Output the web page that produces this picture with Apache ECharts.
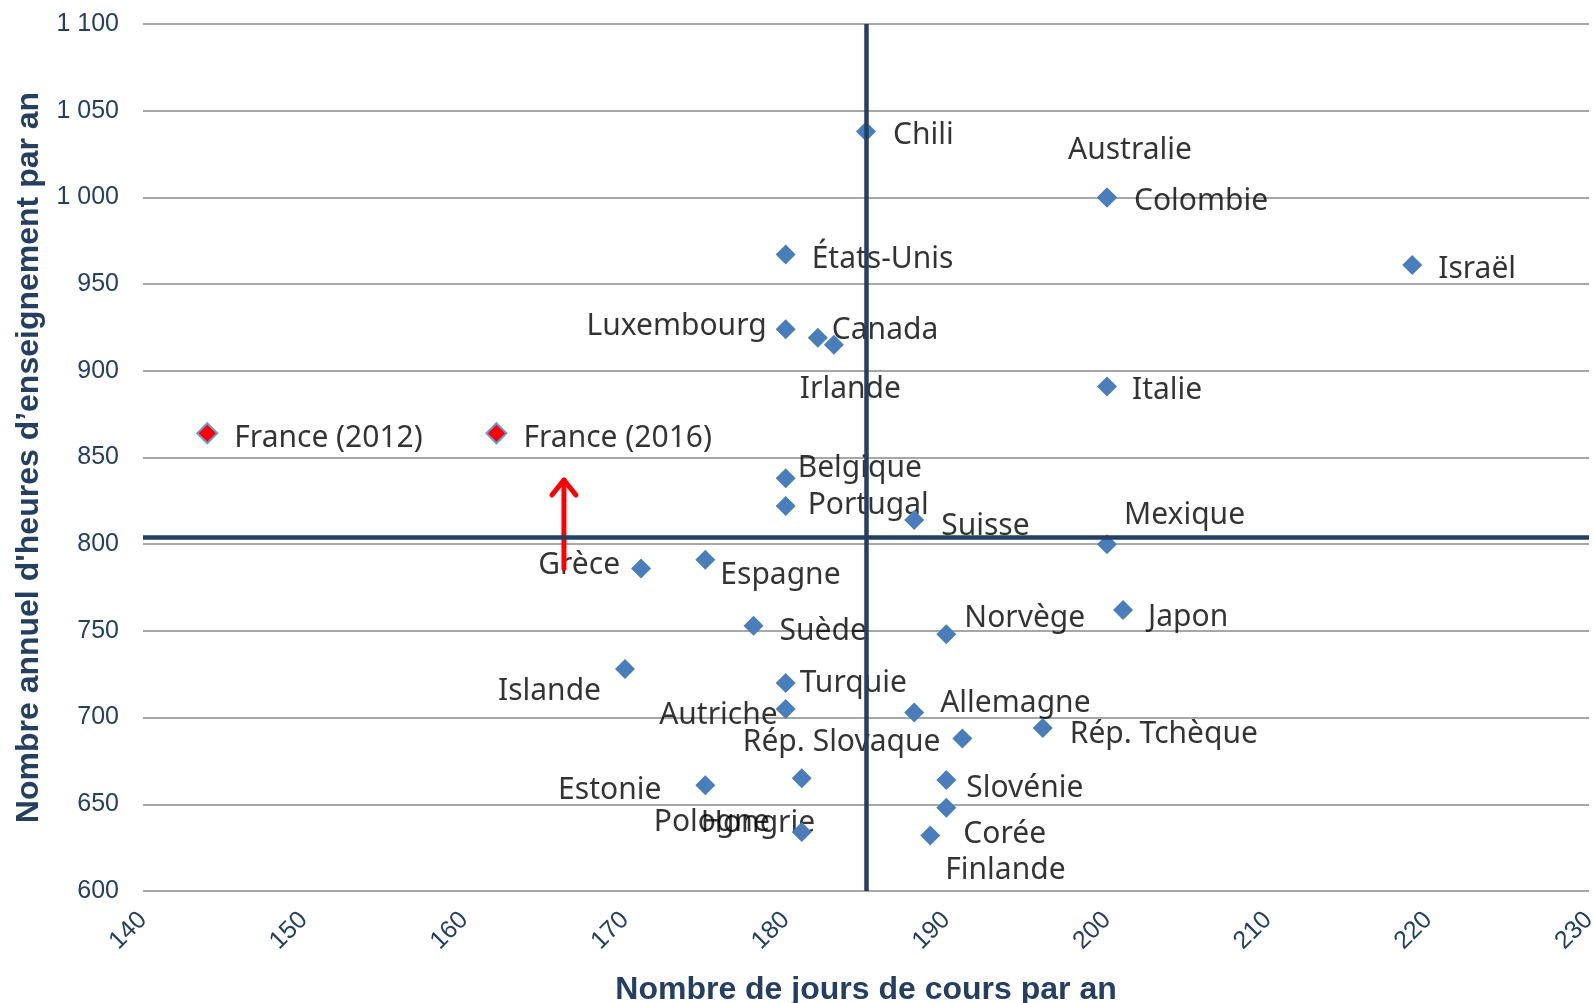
<!DOCTYPE html>
<html>
<head>
<meta charset="utf-8">
<script src="https://cdn.jsdelivr.net/npm/echarts@6/dist/echarts.min.js"></script>
<style>
html,body{margin:0;padding:0;background:#fff;}
#chart{width:1594px;height:1003px;}
</style>
</head>
<body>
<div id="chart"></div>
<script>
// ---- Data ----
const countries = ['Chili','Australie','Colombie','États-Unis','Israël','Luxembourg','Canada','Irlande','Italie','Belgique','Portugal','Suisse','Mexique','Grèce','Espagne','Japon','Norvège','Suède','Islande','Turquie','Autriche','Allemagne','Rép. Slovaque','Rép. Tchèque','Estonie','Hongrie','Pologne','Slovénie','Corée','Finlande'];
const days =  [185, 200, 200, 180, 219, 180, 182, 183, 200, 180, 180, 188, 200, 171, 175, 201, 190, 178, 170, 180, 180, 188, 191, 196, 175, 181, 181, 190, 190, 189];
const hours = [1038,1000,1000, 967, 961, 924, 919, 915, 891, 838, 822, 814, 800, 786, 791, 762, 748, 753, 728, 720, 705, 703, 688, 694, 661, 665, 634, 664, 648, 632];
const franceNames = ['France (2012)', 'France (2016)'];
const franceDays = [144, 162];
const franceHours = [864, 864];
const meanDays = 185;
const meanHours = 804;
const arrowDays = [166.2, 166.2];
const arrowHours = [786, 837];
const xMin = 140, xMax = 230, xStep = 10;
const yMin = 600, yMax = 1100, yStep = 50;

// ---- Label layout (pixel offsets from marker centre) ----
const labelLayout = {
  'Chili':[27,2,'left'], 'Australie':[-39,-49,'left'], 'Colombie':[27,2,'left'],
  'États-Unis':[26,3,'left'], 'Israël':[26,2,'left'], 'Luxembourg':[-19,-5,'right'],
  'Canada':[14,-9,'left'], 'Irlande':[-34,43,'left'], 'Italie':[25,2,'left'],
  'Belgique':[12,-12,'left'], 'Portugal':[22,-3,'left'], 'Suisse':[27,4.5,'left'],
  'Mexique':[17,-31,'left'], 'Grèce':[-21,-5,'right'], 'Espagne':[15,14,'left'],
  'Japon':[25,5,'left'], 'Norvège':[18,-18,'left'], 'Suède':[26,4,'left'],
  'Islande':[-24,20,'right'], 'Turquie':[14,-1.5,'left'], 'Autriche':[-8,4.5,'right'],
  'Allemagne':[26,-11,'left'], 'Rép. Slovaque':[-22,2,'right'], 'Rép. Tchèque':[27,4.5,'left'],
  'Estonie':[-44,3,'right'], 'Hongrie':[-101,43,'left'], 'Pologne':[-148,-11.5,'left'],
  'Slovénie':[20,6,'left'], 'Corée':[17,25,'left'], 'Finlande':[15,33,'left'],
  'France (2012)':[27,3,'left'], 'France (2016)':[27,3,'left']
};
const LABEL_DY = 2;

const NAVY = '#243F60';
const BLUE = '#4A7EBB';
const LABEL_FONT = 'Noto Sans';
const AXIS_FONT = 'Liberation Sans, Arial, sans-serif';

function labelFor(name){
  const l = labelLayout[name];
  return {
    show: true, position: 'inside', formatter: name,
    align: l[2], verticalAlign: 'middle', offset: [l[0], l[1] + LABEL_DY],
    color: '#000', fontSize: 30, fontFamily: LABEL_FONT
  };
}

const allNames = countries.concat(franceNames);
const allDays = days.concat(franceDays);
const allHours = hours.concat(franceHours);

const labelData = allNames.map((n, i) => ({ value: [allDays[i], allHours[i]], label: labelFor(n) }));
const countryData = countries.map((n, i) => [days[i], hours[i]]);
const franceData = franceNames.map((n, i) => [franceDays[i], franceHours[i]]);

const chart = echarts.init(document.getElementById('chart'), null, {renderer: 'canvas'});
chart.setOption({
  animation: false,
  grid: { left: 143, right: 5, top: 24, bottom: 112, containLabel: false, outerBoundsMode: 'none' },
  xAxis: {
    type: 'value', min: xMin, max: xMax, interval: xStep,
    name: 'Nombre de jours de cours par an', nameLocation: 'middle', nameGap: 83,
    nameTextStyle: { color: NAVY, fontSize: 32, fontWeight: 'bold', fontFamily: AXIS_FONT },
    axisLine: { show: false }, axisTick: { show: false }, splitLine: { show: false },
    axisLabel: { rotate: 45, margin: 25, color: NAVY, fontSize: 25, fontFamily: AXIS_FONT }
  },
  yAxis: {
    type: 'value', min: yMin, max: yMax, interval: yStep,
    name: "Nombre annuel d'heures d’enseignement par an", nameLocation: 'middle', nameGap: 98,
    nameTextStyle: { color: NAVY, fontSize: 32, fontWeight: 'bold', fontFamily: AXIS_FONT },
    axisLine: { show: false }, axisTick: { show: false },
    splitLine: { show: true, lineStyle: { color: '#8A8A8A', width: 1.5 } },
    axisLabel: {
      margin: 24, color: NAVY, fontSize: 25, fontFamily: AXIS_FONT,
      formatter: v => v >= 1000 ? Math.floor(v/1000) + ' ' + String(v % 1000).padStart(3, '0') : String(v)
    }
  },
  series: [
    {
      name: 'labels', type: 'scatter', z: 1, symbol: 'diamond', symbolSize: 20,
      itemStyle: { color: 'rgba(0,0,0,0)' }, silent: true,
      data: labelData
    },
    {
      name: 'means', type: 'scatter', z: 2, data: [],
      markLine: {
        silent: true, symbol: ['none', 'none'], label: { show: false },
        lineStyle: { color: NAVY, width: 4.5, type: 'solid' },
        data: [{ xAxis: meanDays }, { yAxis: meanHours }]
      }
    },
    {
      name: 'arrow', type: 'custom', z: 2,
      data: [[arrowDays[0], arrowHours[0], arrowDays[1], arrowHours[1]]],
      renderItem: function(params, api){
        const p0 = api.coord([api.value(0), api.value(1)]);
        const p1 = api.coord([api.value(2), api.value(3)]);
        const style = { stroke: '#FF0000', lineWidth: 5, fill: null, lineCap: 'round', lineJoin: 'round' };
        return {
          type: 'group', children: [
            { type: 'polyline', shape: { points: [p0, p1] }, style: style },
            { type: 'polyline', shape: { points: [[p1[0]-12, p1[1]+15], p1, [p1[0]+12, p1[1]+15]] }, style: style }
          ]
        };
      }
    },
    {
      name: 'countries', type: 'scatter', z: 3, symbol: 'diamond', symbolSize: 20,
      itemStyle: { color: BLUE, opacity: 1 }, data: countryData
    },
    {
      name: 'France', type: 'scatter', z: 3, symbol: 'diamond', symbolSize: 20,
      itemStyle: { color: '#FF0000', borderColor: '#6A9AD4', borderWidth: 2, opacity: 1 }, data: franceData
    }
  ]
});
</script>
</body>
</html>
